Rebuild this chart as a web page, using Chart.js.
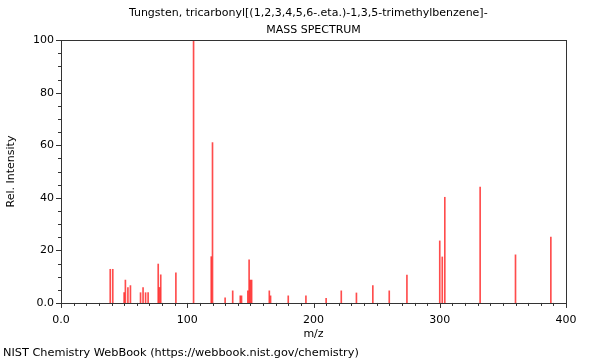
<!DOCTYPE html>
<html lang="en">
<head>
    <meta charset="UTF-8">
    <title>Mass Spectrum</title>
    <script src="https://cdn.jsdelivr.net/npm/chart.js"></script>
    <style>
        body { margin: 0; background: #fff; }
        #chartBox { width: 600px; height: 360px; }
    </style>
</head>
<body>
    <div id="chartBox">
        <canvas id="msChart" width="600" height="360"></canvas>
    </div>

    <script>
        // peaks (m/z, relative intensity)
        const mzValues = [39, 41, 50, 51, 53, 55, 63, 65, 67, 69, 77, 78, 79, 91, 105, 119, 120,
            130, 136, 142, 143, 148, 149, 150, 151, 165, 166, 180, 194, 210, 222, 234, 247, 260,
            274, 300, 302, 304, 332, 360, 388];
        const intensities = [12.8, 12.8, 3.9, 8.7, 5.8, 6.6, 3.9, 5.8, 3.9, 3.9, 14.8, 5.9, 10.7, 11.5, 100, 17.6, 61,
            1.9, 4.6, 2.7, 2.7, 4.6, 16.4, 8.7, 8.7, 4.6, 2.7, 2.7, 2.7, 1.8, 4.6, 3.8, 6.6, 4.6,
            10.6, 23.6, 17.5, 40.2, 44.1, 18.3, 25.1];

        const xTickValues = [0, 100, 200, 300, 400];
        const xTickLabels = ['0.0', '100', '200', '300', '400'];
        const yTickValues = [0, 20, 40, 60, 80, 100];
        const yTickLabels = ['0.0', '20', '40', '60', '80', '100'];

        const titleLines = ['Tungsten, tricarbonyl[(1,2,3,4,5,6-.eta.)-1,3,5-trimethylbenzene]-   ', 'MASS SPECTRUM'];
        const sourceNote = 'NIST Chemistry WebBook (https://webbook.nist.gov/chemistry)';

        const fontFamily = '"DejaVu Sans", Arial, sans-serif';
        const axisColor = '#333';

        // frame + major/minor tick marks (chart.js has no minor ticks)
        const frameTicks = {
            id: 'frameTicks',
            afterDatasetsDraw(chart) {
                const { ctx, chartArea: a, scales } = chart;
                ctx.save();
                ctx.strokeStyle = axisColor;
                ctx.lineWidth = 1;
                ctx.strokeRect(Math.round(a.left) + 0.5, Math.round(a.top) + 0.5,
                    Math.round(a.right - a.left), Math.round(a.bottom - a.top));
                ctx.beginPath();
                for (let v = 0; v <= 400; v += 10) {
                    const px = Math.round(scales.x.getPixelForValue(v)) + 0.5;
                    const len = v % 100 === 0 ? 5 : 3;
                    ctx.moveTo(px, a.bottom);
                    ctx.lineTo(px, a.bottom + len);
                }
                for (let v = 0; v <= 100; v += 5) {
                    const py = Math.round(scales.y.getPixelForValue(v)) + 0.5;
                    const len = v % 20 === 0 ? 5 : 3;
                    ctx.moveTo(a.left, py);
                    ctx.lineTo(a.left - len, py);
                }
                ctx.stroke();
                ctx.restore();
            }
        };

        const ctx = document.getElementById('msChart').getContext('2d');
        const msChart = new Chart(ctx, {
            type: 'bar',
            data: {
                datasets: [{
                    data: mzValues.map((m, i) => ({ x: m, y: intensities[i] })),
                    backgroundColor: 'rgba(255, 0, 0, 0.7)',
                    borderWidth: 0,
                    barThickness: 1
                }]
            },
            options: {
                responsive: false,
                animation: false,
                devicePixelRatio: 1,
                layout: { padding: { left: 3, right: 34, top: 0, bottom: 0 } },
                plugins: {
                    legend: { display: false },
                    tooltip: { enabled: false },
                    title: {
                        display: true,
                        text: titleLines,
                        fullSize: false,
                        color: '#000',
                        font: { family: fontFamily, size: 11, weight: 'normal', lineHeight: 1.55 },
                        padding: { top: 4.5, bottom: 1.5 }
                    },
                    subtitle: {
                        display: true,
                        text: sourceNote,
                        position: 'bottom',
                        align: 'start',
                        color: '#000',
                        font: { family: fontFamily, size: 11.3, weight: 'normal', lineHeight: 1.2 },
                        padding: { top: 2.6, bottom: 0.3 }
                    }
                },
                scales: {
                    x: {
                        type: 'linear',
                        min: 0,
                        max: 400,
                        offset: false,
                        grid: { display: false, drawTicks: false, offset: false },
                        border: { display: false },
                        afterBuildTicks: (scale) => { scale.ticks = xTickValues.map(v => ({ value: v })); },
                        ticks: {
                            color: '#000',
                            padding: 10.2,
                            maxRotation: 0,
                            font: { family: fontFamily, size: 11 },
                            callback: (v) => xTickLabels[xTickValues.indexOf(v)]
                        },
                        title: {
                            display: true,
                            text: 'm/z',
                            color: '#000',
                            font: { family: fontFamily, size: 11 },
                            padding: { top: 0, bottom: 3.2 }
                        },
                        afterFit: (scale) => { scale.height = 40.6; }
                    },
                    y: {
                        min: 0,
                        max: 100,
                        grid: { display: false, drawTicks: false },
                        border: { display: false },
                        afterBuildTicks: (scale) => { scale.ticks = yTickValues.map(v => ({ value: v })); },
                        ticks: {
                            color: '#000',
                            padding: 7,
                            font: { family: fontFamily, size: 11 },
                            callback: (v) => yTickLabels[yTickValues.indexOf(v)]
                        },
                        title: {
                            display: true,
                            text: 'Rel. Intensity',
                            color: '#000',
                            font: { family: fontFamily, size: 11 },
                            padding: { top: 1.4, bottom: 0 }
                        },
                        afterFit: (scale) => { scale.width = 58; }
                    }
                }
            },
            plugins: [frameTicks]
        });
    </script>
</body>
</html>
